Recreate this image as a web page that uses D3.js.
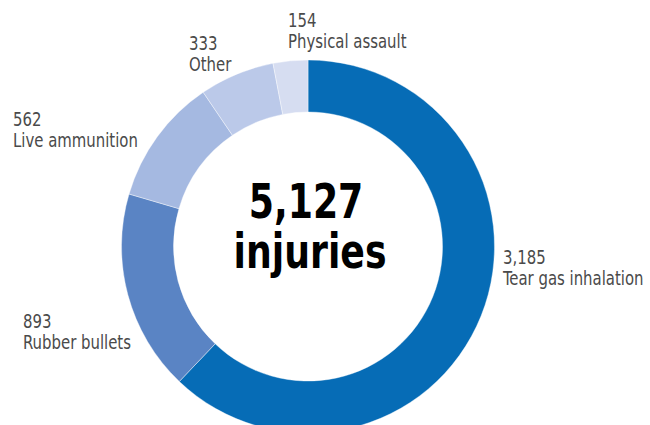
<!DOCTYPE html>
<html><head><meta charset="utf-8">
<script src="https://cdn.jsdelivr.net/npm/d3@7"></script>
<style>body{margin:0;background:#fff}svg{display:block}</style>
</head><body>
<script>
const categories = ["Tear gas inhalation","Rubber bullets","Live ammunition","Other","Physical assault"];
const values = [3185, 893, 562, 333, 154];
const colors = ["#066cb6","#5a84c4","#a5b9e1","#bbc9e9","#d6ddf1"];
const totalLabel = ["5,127","injuries"];
const labelPos = [[503,264],[23,328],[13,126],[189,50],[288,27]];

const W=650,H=425, cx=308, cy=246.5, rOut=186.5, rIn=134.5;
const svg=d3.select("body").append("svg").attr("width",W).attr("height",H);
const g=svg.append("g").attr("transform",`translate(${cx},${cy})`);
const pie=d3.pie().sort(null).value(d=>d)(values);
const arc=d3.arc().innerRadius(rIn).outerRadius(rOut);
g.selectAll("path").data(pie).join("path").attr("d",arc)
 .attr("fill",(d,i)=>colors[i]).attr("stroke","#fff").attr("stroke-width",0.4);

const font="'DejaVu Sans Condensed','DejaVu Sans',sans-serif";
const sxLabel=0.85, sxBig=0.84;
categories.forEach((c,i)=>{
  const t=svg.append("text")
   .attr("transform",`translate(${labelPos[i][0]},${labelPos[i][1]}) scale(${sxLabel},1)`)
   .attr("font-family",font).attr("font-size",19.5).attr("fill","#4a4a4a");
  t.append("tspan").attr("x",0).text(d3.format(",")(values[i]));
  t.append("tspan").attr("x",0).attr("dy",21).text(c);
});
svg.append("text").attr("transform",`translate(${cx-2},218) scale(${sxBig},1)`).attr("text-anchor","middle")
 .attr("font-family",font).attr("font-weight","bold").attr("font-size",48).attr("fill","#000").text(totalLabel[0]);
svg.append("text").attr("transform",`translate(${cx+2},268) scale(${sxBig},1)`).attr("text-anchor","middle")
 .attr("font-family",font).attr("font-weight","bold").attr("font-size",48).attr("fill","#000").text(totalLabel[1]);
</script>
</body></html>
